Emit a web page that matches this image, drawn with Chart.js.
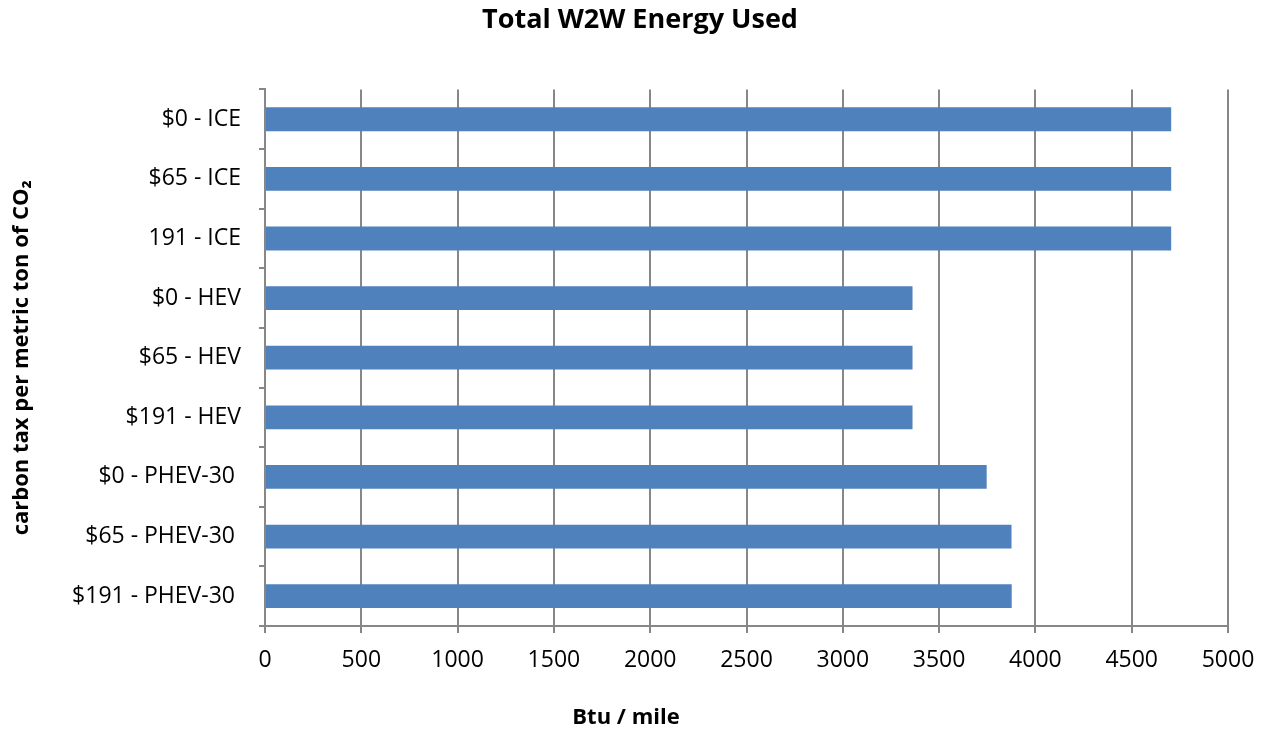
<!DOCTYPE html>
<html>
<head>
<meta charset="utf-8">
<script src="https://cdn.jsdelivr.net/npm/chart.js@4.4.1/dist/chart.umd.min.js"></script>
<style>
  html, body { margin: 0; padding: 0; background: #fff; }
  #wrap { width: 1272px; height: 732px; }
</style>
</head>
<body>
<div id="wrap"><canvas id="w2wChart" width="1272" height="732"></canvas></div>
<script>
// categories (top to bottom) and values in Btu / mile
const categories = [
  '$0 - ICE', '$65 - ICE', '191 - ICE',
  '$0 - HEV', '$65 - HEV', '$191 - HEV',
  '$0 - PHEV-30 ', '$65 - PHEV-30 ', '$191 - PHEV-30 '
];
const energyUsed = [4705, 4705, 4705, 3362, 3362, 3362, 3747, 3876, 3877];
const xTicks = { min: 0, max: 5000, step: 500 };

const FONT = '"Open Sans", "Noto Sans", sans-serif';
const GRID = '#878787';

// x-axis title is centred on the whole picture, not on the plot, so draw it here
const xTitlePlugin = {
  id: 'xTitle',
  afterDraw(chart) {
    const c = chart.ctx;
    c.save();
    c.font = 'bold 22px ' + FONT;
    c.fillStyle = '#000';
    c.textAlign = 'center';
    c.textBaseline = 'middle';
    c.fillText('Btu / mile', 626, 718);
    c.restore();
  }
};

const ctx = document.getElementById('w2wChart').getContext('2d');
const chart = new Chart(ctx, {
  type: 'bar',
  data: {
    labels: categories,
    datasets: [{
      label: 'Total W2W Energy Used',
      data: energyUsed,
      backgroundColor: '#4F81BD',
      barPercentage: 0.4,
      categoryPercentage: 1.0
    }]
  },
  plugins: [xTitlePlugin],
  options: {
    indexAxis: 'y',
    responsive: false,
    animation: false,
    layout: { padding: { left: 8, right: 0, top: 0, bottom: 0 } },
    plugins: {
      legend: { display: false },
      tooltip: { enabled: false },
      title: {
        display: true,
        text: 'Total W2W Energy Used',
        color: '#000',
        font: { family: FONT, size: 27, weight: 'bold' },
        padding: { top: 4, bottom: 53 }
      }
    },
    scales: {
      x: {
        min: xTicks.min,
        max: xTicks.max,
        ticks: {
          stepSize: xTicks.step,
          color: '#000',
          padding: 14,
          font: { family: FONT, size: 23 },
          // plain numbers, no thousands separator
          callback: v => String(v)
        },
        grid: { color: GRID, lineWidth: 2, tickLength: 7, drawTicks: true },
        border: { color: GRID, width: 2 },
        afterFit(scale) { scale.height = 106; }
      },
      y: {
        ticks: {
          color: '#000',
          padding: 18,
          font: { family: FONT, size: 23 }
        },
        grid: { drawOnChartArea: false, offset: true, color: GRID, lineWidth: 2, tickLength: 6 },
        border: { color: GRID, width: 2 },
        title: {
          display: true,
          text: 'carbon tax per metric ton of CO₂',
          color: '#000',
          font: { family: FONT, size: 22, weight: 'bold' },
          padding: { top: 1, bottom: 0 }
        },
        afterFit(scale) { scale.width = 257; }
      },
      // empty spacer on the right so the plot ends at 5000 like the original
      yRight: {
        type: 'category',
        position: 'right',
        grid: { display: false },
        ticks: { display: false },
        border: { display: false },
        afterFit(scale) { scale.width = 44; }
      }
    }
  }
});
</script>
</body>
</html>
